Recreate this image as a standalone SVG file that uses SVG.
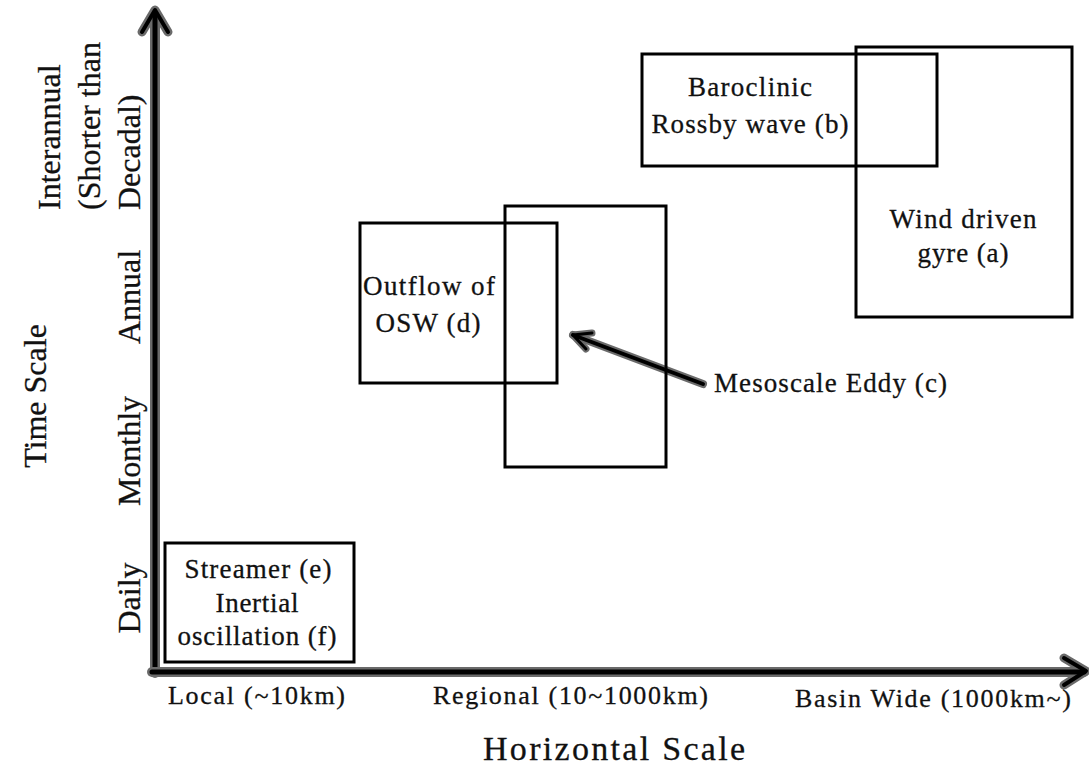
<svg xmlns="http://www.w3.org/2000/svg" width="1089" height="767" viewBox="0 0 1089 767">
<style>
text{font-family:"Liberation Serif","Times New Roman",serif;fill:#111;stroke:#111;stroke-width:0.3}
.bt{font-size:27px}
.ax{font-size:26px}
.big{font-size:32px}
.box{fill:none;stroke:#000;stroke-width:3}
.sh-o{stroke:#6a6a6a;fill:none;stroke-linecap:round;stroke-linejoin:round}
.sh-i{stroke:#000;fill:none;stroke-linecap:round;stroke-linejoin:round}
</style>
<rect width="1089" height="767" fill="#fff"/>
<g id="connectors">
  <g id="y-axis">
    <path class="sh-o" stroke-width="10" d="M155,673 V14"/>
    <path class="sh-o" stroke-width="9" d="M142,32 L155,10 L168,32"/>
    <path class="sh-i" stroke-width="5" d="M155,673 V14"/>
    <path class="sh-i" stroke-width="4" d="M142,32 L155,10 L168,32"/>
  </g>
  <g id="x-axis">
    <path class="sh-o" stroke-width="10" d="M152,672 H1084"/>
    <path class="sh-o" stroke-width="9" d="M1064,658 L1086,671 L1064,685"/>
    <path class="sh-i" stroke-width="5" d="M152,672 H1084"/>
    <path class="sh-i" stroke-width="4" d="M1064,658 L1086,671 L1064,685"/>
  </g>
  <g id="eddy-arrow">
    <path class="sh-o" stroke-width="8" d="M703,384 L573,335"/>
    <path class="sh-o" stroke-width="7" d="M592,333 L573,335 L586,349"/>
    <path class="sh-i" stroke-width="4" d="M703,384 L573,335"/>
    <path class="sh-i" stroke-width="3" d="M592,333 L573,335 L586,349"/>
  </g>
</g>
<g id="node-a">
  <rect class="box" x="856" y="47" width="216" height="270"/>
  <text class="bt" x="963" y="228" text-anchor="middle" textLength="147" lengthAdjust="spacing">Wind driven</text>
  <text class="bt" x="963" y="262" text-anchor="middle" textLength="91" lengthAdjust="spacing">gyre (a)</text>
</g>
<g id="node-b">
  <rect class="box" x="642" y="54" width="295" height="112"/>
  <text class="bt" x="750" y="96" text-anchor="middle" textLength="124" lengthAdjust="spacing">Baroclinic</text>
  <text class="bt" x="750" y="133" text-anchor="middle" textLength="197" lengthAdjust="spacing">Rossby wave (b)</text>
</g>
<g id="node-c">
  <rect class="box" x="505" y="206" width="161" height="261"/>
</g>
<g id="node-d">
  <rect class="box" x="360" y="223" width="197" height="160"/>
  <text class="bt" x="429" y="295" text-anchor="middle" textLength="132" lengthAdjust="spacing">Outflow of</text>
  <text class="bt" x="428" y="332" text-anchor="middle" textLength="105" lengthAdjust="spacing">OSW (d)</text>
</g>
<g id="label-c">
  <text class="bt" x="714" y="392" textLength="233" lengthAdjust="spacing">Mesoscale Eddy (c)</text>
</g>
<g id="node-ef">
  <rect class="box" x="165" y="543" width="189" height="119"/>
  <text class="bt" x="258" y="578" text-anchor="middle" textLength="147" lengthAdjust="spacing">Streamer (e)</text>
  <text class="bt" x="257" y="612" text-anchor="middle" textLength="83" lengthAdjust="spacing">Inertial</text>
  <text class="bt" x="257" y="645" text-anchor="middle" textLength="159" lengthAdjust="spacing">oscillation (f)</text>
</g>
<g id="x-labels">
  <text class="ax" x="168" y="704" textLength="177" lengthAdjust="spacing">Local (~10km)</text>
  <text class="ax" x="433" y="704" textLength="275" lengthAdjust="spacing">Regional (10~1000km)</text>
  <text class="ax" x="795" y="707" textLength="276" lengthAdjust="spacing">Basin Wide (1000km~)</text>
  <text class="big" x="614" y="760" text-anchor="middle" style="font-size:34px" textLength="262" lengthAdjust="spacing">Horizontal Scale</text>
</g>
<g id="y-labels">
  <text class="big" transform="translate(46,396) rotate(-90)" text-anchor="middle">Time Scale</text>
  <text class="big" transform="translate(60,210) rotate(-90)">Interannual</text>
  <text class="big" transform="translate(100,210) rotate(-90)">(Shorter than</text>
  <text class="big" transform="translate(140,210) rotate(-90)">Decadal)</text>
  <text class="big" transform="translate(140,297) rotate(-90)" text-anchor="middle">Annual</text>
  <text class="big" transform="translate(140,451) rotate(-90)" text-anchor="middle">Monthly</text>
  <text class="big" transform="translate(140,598) rotate(-90)" text-anchor="middle">Daily</text>
</g>
</svg>
